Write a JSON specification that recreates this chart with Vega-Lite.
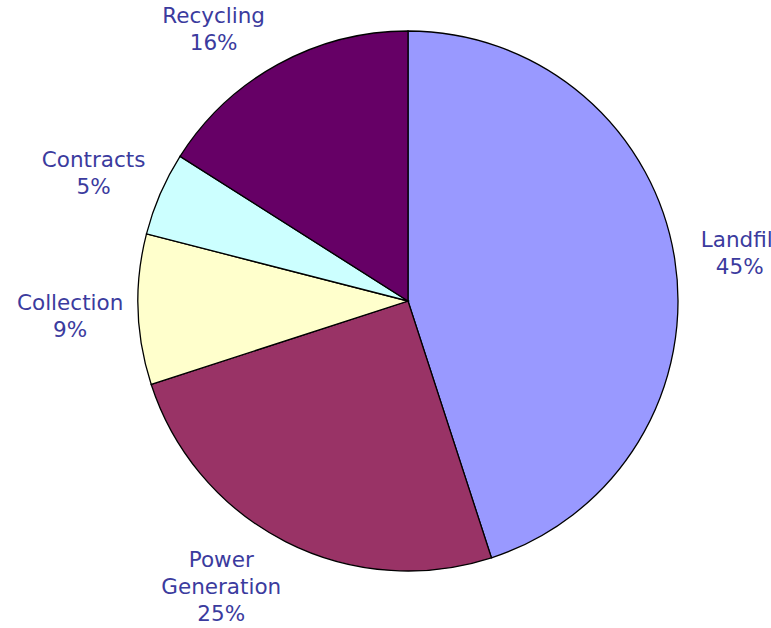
{
  "$schema": "https://vega.github.io/schema/vega-lite/v6.json",
  "width": 726,
  "height": 602,
  "autosize": "none",
  "padding": {"left": 45, "top": 0, "right": 0, "bottom": 26},
  "background": "white",
  "config": {"view": {"stroke": null}},
  "data": {
    "values": [
      {"idx": 1, "name": "Landfill", "value": 45, "label": "Landfill\n45%"},
      {"idx": 2, "name": "Power Generation", "value": 25, "label": "Power\nGeneration\n25%"},
      {"idx": 3, "name": "Collection", "value": 9, "label": "Collection\n9%"},
      {"idx": 4, "name": "Contracts", "value": 5, "label": "Contracts\n5%"},
      {"idx": 5, "name": "Recycling", "value": 16, "label": "Recycling\n16%"}
    ]
  },
  "encoding": {
    "theta": {"field": "value", "type": "quantitative", "stack": true},
    "order": {"field": "idx", "type": "quantitative"}
  },
  "layer": [
    {
      "mark": {"type": "arc", "outerRadius": 270, "stroke": "black", "strokeWidth": 1.3},
      "encoding": {
        "color": {
          "field": "name",
          "type": "nominal",
          "scale": {
            "domain": ["Landfill", "Power Generation", "Collection", "Contracts", "Recycling"],
            "range": ["#9999FF", "#993366", "#FFFFCC", "#CCFFFF", "#660066"]
          },
          "legend": null
        }
      }
    },
    {
      "mark": {
        "type": "text",
        "radius": {"expr": "1/sqrt(pow(sin(PI*(datum.value_start+datum.value_end)/100)/338,2)+pow(cos(PI*(datum.value_start+datum.value_end)/100)/310,2))"},
        "dy": {"expr": "6-(length(split(datum.label,'\\n'))-1)*13.5"},
        "dx": {"expr": "-55*pow(cos(PI*(datum.value_start+datum.value_end)/100),2)"},
        "font": "DejaVu Sans",
        "fontSize": 21.5,
        "lineHeight": 27,
        "lineBreak": "\n",
        "align": "center",
        "baseline": "middle",
        "color": "#3B3B9E"
      },
      "encoding": {
        "text": {"field": "label", "type": "nominal"}
      }
    }
  ]
}
